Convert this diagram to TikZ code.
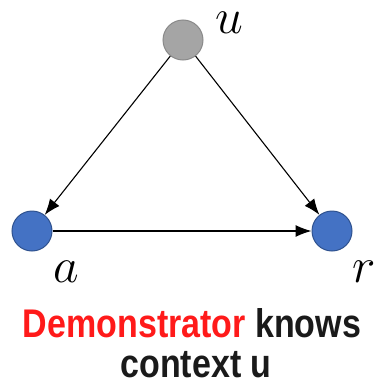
\documentclass[tikz,border=0pt]{standalone}
\usepackage{fontspec}
\setmainfont{Liberation Sans}[FakeStretch=0.85]
\usetikzlibrary{arrows.meta}
\definecolor{ngray}{HTML}{A5A5A5}
\definecolor{ngrayb}{HTML}{8A8A8A}
\definecolor{nblue}{HTML}{4472C4}
\definecolor{nblueb}{HTML}{2F528F}
\definecolor{tred}{HTML}{FF1A1A}
\definecolor{tblack}{HTML}{1A1A1A}
\newcommand{\biglab}[1]{\scalebox{2}{\Huge$#1$}}
\begin{document}
\begin{tikzpicture}[x=1pt,y=-1pt,
  vert/.style={circle,minimum size=40pt,inner sep=0pt,line width=1pt},
  grayv/.style={vert,fill=ngray,draw=ngrayb},
  bluev/.style={vert,fill=nblue,draw=nblueb},
  edge/.style={line width=1.1pt,-{Latex[length=16pt,width=12pt]}},
  mlab/.style={inner sep=0pt,anchor=base},
  txt/.style={inner sep=0pt,font=\fontsize{40}{40}\selectfont\bfseries}]
\useasboundingbox (0,0) rectangle (375,388);
\node[grayv] (u) at (183,40) {};
\node[bluev] (a) at (32,231) {};
\node[bluev] (r) at (332,231) {};
\node[mlab] (lu) at (229,33) {\biglab{u}};
\node[mlab] (la) at (66,282) {\biglab{a}};
\node[mlab] (lr) at (364,282) {\biglab{r}};
\draw[edge] (u) -- (a);
\draw[edge] (u) -- (r);
\draw[edge] (a) -- (r);
\node[txt,anchor=base] (t1) at (192,337) {\textcolor{tred}{Demonstrator} \textcolor{tblack}{knows}};
\node[txt,anchor=base,text=tblack] (t2) at (196,377) {context u};
\end{tikzpicture}
\end{document}
